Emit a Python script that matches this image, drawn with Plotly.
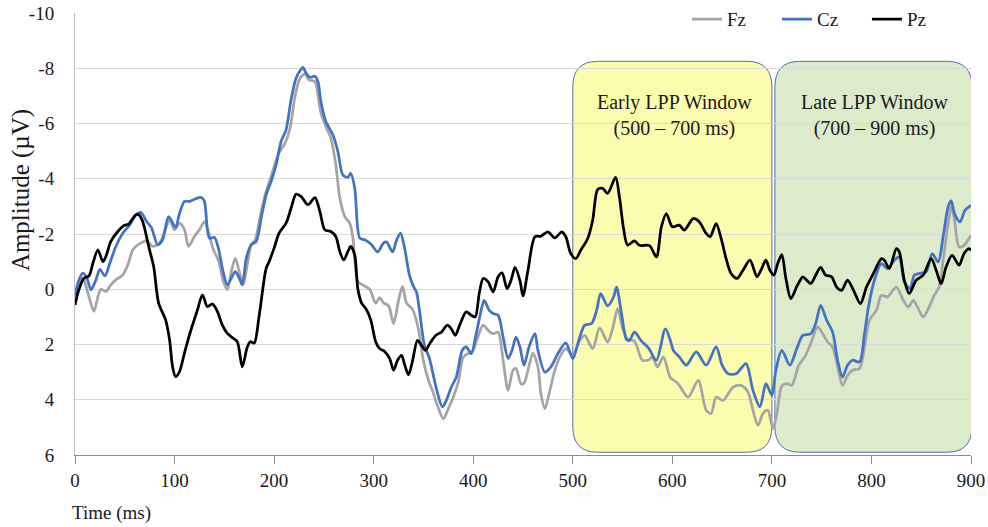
import plotly.graph_objects as go

# ---- data (time in ms, amplitude in microvolts) ----
fz_t = [0, 4, 8, 13, 19, 23, 26, 31, 36, 41, 48, 53, 58, 61, 66, 72, 78, 85, 90, 95, 100, 105, 110, 114, 120, 125, 130, 134, 139, 144, 149, 153, 157, 161, 165, 169, 173, 177, 181, 187, 192, 197, 204, 211, 216, 221, 226, 231, 235, 241, 244, 247, 252, 257, 262, 266, 271, 276, 279, 284, 289, 296, 302, 306, 310, 315, 320, 325, 329, 333, 339, 345, 350, 355, 359, 364, 370, 375, 380, 385, 390, 395, 399, 404, 410, 415, 420, 425, 430, 435, 440, 443, 448, 451, 455, 460, 465, 468, 472, 477, 482, 487, 493, 500, 507, 512, 520, 527, 535, 540, 545, 550, 555, 562, 570, 577, 580, 585, 591, 598, 604, 607, 616, 626, 634, 639, 644, 651, 661, 669, 676, 681, 686, 691, 696, 701, 705, 710, 715, 720, 727, 733, 739, 746, 751, 756, 761, 766, 771, 776, 781, 788, 793, 798, 805, 810, 816, 825, 832, 837, 842, 847, 852, 858, 863, 868, 872, 877, 880, 883, 888, 893, 900]
fz_v = [0.27, -0.22, -0.4, 0.14, 0.8, 0.27, 0.0, 0.08, -0.16, -0.34, -0.52, -0.88, -1.43, -1.55, -1.67, -1.76, -1.55, -1.67, -2.09, -2.51, -2.15, -2.39, -2.15, -1.55, -1.91, -2.15, -2.45, -2.09, -1.43, -1.06, -0.28, 0.02, -0.64, -1.12, -0.64, -0.16, -0.88, -1.61, -1.79, -2.81, -3.54, -4.08, -4.87, -5.29, -5.83, -6.98, -7.64, -7.79, -7.58, -7.52, -7.04, -6.38, -5.89, -5.47, -4.5, -3.3, -2.63, -2.39, -1.91, -0.28, -0.16, 0.0, 0.5, 0.3, 0.5, 0.6, 1.24, 0.4, -0.1, 0.5, 0.72, 1.45, 2.6, 3.3, 3.66, 4.2, 4.69, 4.32, 3.9, 3.36, 2.45, 2.33, 2.27, 1.79, 1.3, 1.49, 1.61, 1.55, 2.57, 3.66, 2.93, 2.87, 3.42, 3.4, 2.93, 2.31, 2.81, 3.78, 4.32, 3.66, 2.93, 2.45, 2.15, 2.39, 1.85, 1.67, 2.15, 1.4, 1.91, 1.43, 0.7, 1.4, 1.8, 1.88, 2.57, 2.54, 2.45, 2.81, 2.45, 3.2, 3.36, 3.48, 3.9, 3.3, 4.38, 4.5, 3.9, 4.02, 3.54, 3.48, 3.72, 4.38, 4.93, 4.5, 4.38, 5.05, 4.5, 3.5, 3.42, 3.48, 2.75, 2.45, 1.97, 1.36, 1.61, 1.91, 2.09, 2.81, 3.48, 3.12, 2.93, 2.87, 2.09, 1.12, 0.76, 0.22, 0.28, -0.08, 0.4, 0.64, 0.4, 0.7, 1.0, 0.64, 0.22, -0.08, -1.05, -2.38, -2.98, -2.62, -1.53, -1.59, -1.96]

cz_t = [0, 4, 8, 12, 16, 21, 25, 30, 35, 41, 48, 55, 61, 66, 72, 77, 83, 88, 94, 101, 105, 110, 115, 120, 127, 130, 135, 140, 144, 149, 153, 157, 161, 165, 168, 172, 177, 182, 187, 192, 197, 202, 207, 212, 217, 222, 226, 229, 232, 236, 241, 244, 247, 252, 259, 264, 269, 274, 277, 281, 286, 291, 297, 304, 310, 313, 319, 323, 327, 331, 336, 340, 343, 346, 351, 356, 363, 369, 373, 378, 383, 389, 393, 398, 403, 408, 411, 416, 420, 425, 430, 435, 439, 443, 447, 451, 456, 462, 465, 472, 478, 485, 493, 500, 506, 512, 519, 524, 528, 535, 541, 544, 549, 554, 557, 562, 569, 576, 584, 593, 598, 601, 607, 614, 624, 634, 644, 650, 656, 664, 674, 681, 688, 694, 700, 704, 710, 718, 725, 731, 739, 744, 749, 755, 761, 766, 771, 776, 781, 788, 793, 797, 803, 810, 816, 823, 828, 833, 839, 843, 848, 855, 861, 867, 872, 877, 880, 884, 889, 894, 900]
cz_v = [0.2, -0.34, -0.58, -0.4, 0.02, -0.34, -0.72, -0.48, -0.94, -1.55, -2.03, -2.33, -2.69, -2.78, -2.45, -2.21, -1.61, -1.79, -2.63, -2.25, -2.75, -3.18, -3.18, -3.26, -3.32, -3.18, -1.85, -1.88, -1.49, -0.6, -0.16, -0.4, -0.64, -0.4, -0.16, -1.12, -1.61, -1.73, -2.57, -3.42, -3.9, -4.5, -5.35, -5.77, -6.86, -7.64, -7.91, -8.03, -7.83, -7.67, -7.71, -7.52, -6.8, -6.07, -5.59, -4.99, -4.14, -4.05, -4.2, -3.66, -1.85, -1.79, -1.65, -1.35, -1.68, -1.71, -1.35, -1.78, -2.03, -1.5, -0.5, -0.1, 0.1, 0.76, 2.03, 2.5, 3.6, 4.26, 4.02, 3.54, 3.18, 2.21, 2.09, 2.33, 1.61, 0.76, 0.4, 0.76, 0.88, 0.94, 1.73, 2.51, 2.21, 1.73, 2.1, 2.75, 2.1, 1.61, 2.21, 3.0, 2.81, 2.33, 1.94, 2.51, 1.85, 1.3, 1.24, 0.76, 0.16, 0.6, 0.28, -0.08, 0.9, 1.82, 1.85, 1.55, 1.88, 2.12, 2.57, 1.43, 1.85, 2.21, 2.45, 2.75, 2.27, 2.75, 2.09, 2.75, 3.06, 3.06, 2.69, 3.66, 4.26, 3.42, 3.84, 2.93, 2.21, 2.75, 2.15, 1.67, 1.61, 1.24, 0.58, 1.12, 1.55, 2.57, 3.18, 2.75, 2.57, 2.63, 1.61, 0.64, -0.33, -0.93, -0.75, -1.05, -1.17, -0.27, -0.02, -0.51, -0.57, -0.63, -1.29, -0.99, -1.9, -2.98, -3.2, -2.68, -2.44, -2.86, -3.04]

pz_t = [0, 4, 9, 14, 18, 23, 28, 31, 36, 43, 49, 54, 61, 64, 68, 74, 79, 84, 91, 95, 98, 101, 105, 110, 116, 123, 128, 133, 138, 143, 148, 153, 158, 163, 168, 173, 176, 180, 185, 192, 195, 200, 205, 212, 217, 222, 227, 234, 241, 246, 251, 257, 262, 266, 270, 274, 277, 281, 284, 288, 292, 297, 302, 306, 311, 316, 320, 324, 328, 331, 335, 339, 344, 348, 352, 357, 363, 368, 374, 378, 382, 387, 393, 398, 402, 406, 410, 415, 420, 425, 429, 434, 438, 442, 447, 450, 455, 462, 468, 475, 482, 489, 493, 498, 503, 508, 515, 520, 525, 530, 535, 543, 547, 551, 555, 562, 567, 577, 584, 589, 594, 600, 607, 612, 621, 627, 634, 638, 644, 649, 654, 659, 665, 671, 678, 685, 689, 694, 698, 702, 706, 710, 714, 719, 725, 728, 731, 739, 744, 749, 754, 760, 765, 770, 776, 782, 789, 795, 802, 810, 813, 818, 825, 828, 833, 838, 845, 852, 860, 865, 870, 875, 881, 888, 893, 898, 900]
pz_v = [0.57, 0.0, -0.4, -0.48, -0.94, -1.43, -1.0, -1.18, -1.73, -2.09, -2.3, -2.37, -2.69, -2.7, -2.45, -1.55, -0.82, 0.5, 1.11, 1.84, 2.8, 3.16, 2.98, 2.3, 1.53, 0.75, 0.2, 0.63, 0.53, 0.8, 1.3, 1.6, 1.75, 1.9, 2.81, 2.1, 1.9, 1.95, 0.95, -0.76, -1.0, -1.49, -2.03, -2.39, -2.93, -3.44, -3.36, -3.06, -3.32, -2.81, -2.15, -2.09, -1.91, -1.36, -1.06, -1.36, -1.55, -1.24, -0.04, 0.51, 0.69, 1.1, 1.9, 2.15, 2.25, 2.5, 2.93, 2.57, 2.39, 2.72, 3.1, 2.6, 1.85, 2.03, 2.21, 1.93, 1.65, 1.55, 1.3, 1.43, 1.67, 1.24, 0.82, 0.94, 1.0, 0.16, -0.39, -0.27, 0.1, -0.45, -0.59, -0.02, -0.33, -0.79, -0.3, 0.24, -0.69, -1.9, -1.92, -2.08, -1.86, -2.08, -1.9, -1.29, -1.11, -1.41, -1.84, -2.5, -3.61, -3.65, -3.47, -4.05, -3.3, -2.2, -1.6, -1.75, -1.59, -1.58, -1.17, -2.26, -2.74, -2.26, -2.32, -2.14, -2.56, -2.44, -2.02, -1.9, -2.38, -1.84, -1.11, -0.57, -0.39, -0.69, -1.05, -0.45, -0.69, -1.05, -0.69, -0.51, -0.95, -1.25, -0.4, 0.34, -0.1, -0.3, -0.45, -0.21, -0.51, -0.79, -0.51, -0.45, -0.08, 0.04, -0.33, 0.04, 0.52, -0.08, -0.57, -1.11, -1.05, -0.75, -1.47, -1.35, -0.33, 0.16, -0.33, -0.51, -1.11, -0.69, -0.2, -0.81, -1.23, -0.87, -1.29, -1.47, -1.4]

series_names = ["Fz", "Cz", "Pz"]
series_colors = ["#A5A5A5", "#4472C4", "#000000"]

window_labels = ["Early LPP Window<br>(500 – 700 ms)", "Late LPP Window<br>(700 – 900 ms)"]
window_start = [500, 703]
window_end = [700, 901]
window_fill = ["#FCFCAE", "#DCEBCA"]

y_ticks = [-10, -8, -6, -4, -2, 0, 2, 4, 6]
y_ticktext = ["-10", "-8", "-6", "-4", "-2", "0", "2", "4", "6"]
x_ticks = [0, 100, 200, 300, 400, 500, 600, 700, 800, 900]
x_ticktext = ["0", "100", "200", "300", "400", "500", "600", "700", "800", "900"]

FONT = "Liberation Serif"
TXT = "#1a1a1a"

fig = go.Figure()
for name, color, t, v in zip(series_names, series_colors,
                             [fz_t, cz_t, pz_t], [fz_v, cz_v, pz_v]):
    fig.add_trace(go.Scatter(x=t, y=v, mode="lines", name=name,
                             line=dict(color=color, width=2.75, shape="spline", smoothing=0.8)))

# rounded window boxes
y_top, y_bot = -8.25, 5.9
rx, ry = 25, 0.93
for x0, x1, fill, label in zip(window_start, window_end, window_fill, window_labels):
    path = (f"M {x0+rx},{y_top} L {x1-rx},{y_top} Q {x1},{y_top} {x1},{y_top+ry} "
            f"L {x1},{y_bot-ry} Q {x1},{y_bot} {x1-rx},{y_bot} "
            f"L {x0+rx},{y_bot} Q {x0},{y_bot} {x0},{y_bot-ry} "
            f"L {x0},{y_top+ry} Q {x0},{y_top} {x0+rx},{y_top} Z")
    fig.add_shape(type="path", path=path, xref="x", yref="y", layer="below",
                  fillcolor=fill, line=dict(color="#4F72A6", width=1))
    fig.add_annotation(x=(x0 + x1) / 2 + 2, y=-6.3, xref="x", yref="y", text=label,
                       showarrow=False, font=dict(family=FONT, size=20, color=TXT))

fig.add_annotation(x=-0.006, y=-0.131, xref="paper", yref="paper", text="Time (ms)",
                   showarrow=False, xanchor="left", yanchor="middle",
                   font=dict(family=FONT, size=19, color=TXT))
fig.add_annotation(x=-0.061, y=0.6, xref="paper", yref="paper", text="Amplitude (µV)",
                   showarrow=False, textangle=-90, xanchor="center", yanchor="middle",
                   font=dict(family=FONT, size=25, color=TXT))

fig.update_layout(
    width=988, height=527,
    margin=dict(l=75, r=17, t=13, b=72, autoexpand=False),
    paper_bgcolor="white", plot_bgcolor="white",
    font=dict(family=FONT, size=19, color=TXT),
    showlegend=True,
    legend=dict(orientation="h", x=0.683, y=0.986, xanchor="left", yanchor="middle",
                bgcolor="rgba(0,0,0,0)", font=dict(family=FONT, size=19),
                entrywidth=45, entrywidthmode="pixels", tracegroupgap=0),
    xaxis=dict(range=[0, 900], tickvals=x_ticks, ticktext=x_ticktext, showgrid=False,
               zeroline=False, automargin=False,
               showline=True, linecolor="#8C8C8C", linewidth=1,
               ticks="outside", ticklen=8, tickcolor="#8C8C8C", tickwidth=1,
               tickfont=dict(family=FONT, size=19)),
    yaxis=dict(range=[6, -10], tickvals=y_ticks, ticktext=y_ticktext, showgrid=True,
               gridcolor="#D9D9D9", automargin=False,
               gridwidth=1, zeroline=False, showline=True, linecolor="#BFBFBF",
               ticks="", ticklabelstandoff=16, tickfont=dict(family=FONT, size=19)),
)

fig.write_html("out.html")
